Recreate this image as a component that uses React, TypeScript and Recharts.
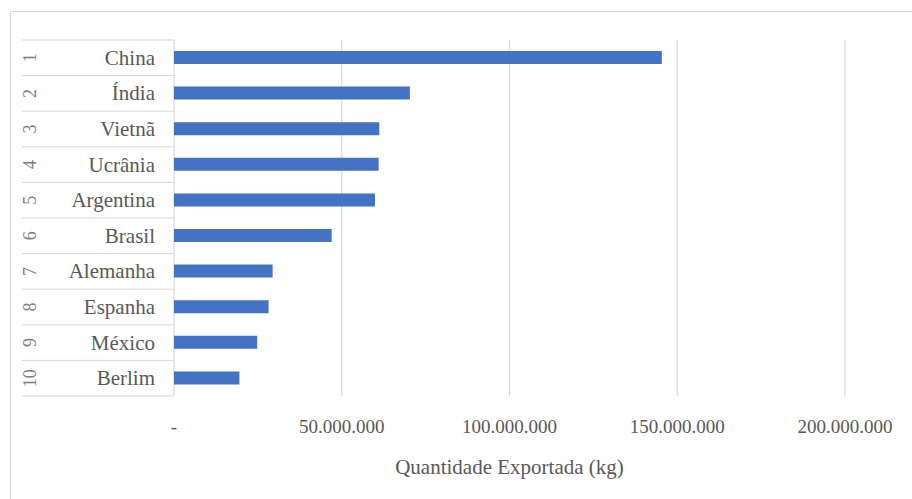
import React from "react";
import { BarChart, Bar, XAxis, YAxis, CartesianGrid } from "recharts";

const ranks = ["1", "2", "3", "4", "5", "6", "7", "8", "9", "10"];
const countries = ["China", "Índia", "Vietnã", "Ucrânia", "Argentina", "Brasil", "Alemanha", "Espanha", "México", "Berlim"];
const exported = [145400000, 70300000, 61200000, 61000000, 59900000, 47000000, 29400000, 28200000, 24800000, 19500000];
const xTicks = [0, 50000000, 100000000, 150000000, 200000000];
const xTitle = "Quantidade Exportada (kg)";

const data = countries.map((c, i) => ({ name: c, rank: ranks[i], value: exported[i] }));

const W = 912;
const H = 499;
const TOP = 40;
const BOTTOM_EDGE = 396;
const BAND = (BOTTOM_EDGE - TOP) / countries.length;
const FONT = "Liberation Serif";

const fmt = (v: number) => {
  if (v === 0) return "-";
  return v.toLocaleString("de-DE");
};

const YTick = (props: any) => {
  const { y, payload, index } = props;
  const rank = ranks[index] ?? "";
  const top = y - BAND / 2;
  const bottom = y + BAND / 2;
  const isLast = index === countries.length - 1;
  return (
    <g>
      <line x1={22} x2={174} y1={top} y2={top} stroke="#d9d9d9" strokeWidth={1} />
      {isLast && <line x1={22} x2={174} y1={bottom} y2={bottom} stroke="#d9d9d9" strokeWidth={1} />}
      <text x={155} y={y} dy={7} textAnchor="end" style={{ fontFamily: FONT, fontSize: 21, fill: "#595959" }}>
        {payload.value}
      </text>
      <text
        x={0}
        y={0}
        dy={6}
        transform={`translate(${30}, ${y}) rotate(-90)`}
        textAnchor="middle"
        style={{ fontFamily: FONT, fontSize: 18, fill: "#7f7f7f" }}
      >
        {rank}
      </text>
    </g>
  );
};

export default function App() {
  return (
    <div style={{ position: "absolute", left: 0, top: 0, width: W, height: H, background: "#fff", overflow: "hidden", fontFamily: FONT }}>
      <div
        style={{
          position: "absolute",
          left: 10,
          top: 11,
          width: W,
          height: H,
          border: "1px solid #d9d9d9",
          boxSizing: "border-box",
        }}
      />
      <div style={{ position: "absolute", left: 0, top: 0 }}>
        <BarChart
          width={W}
          height={H}
          data={data}
          layout="vertical"
          margin={{ top: TOP, right: 67, bottom: 13, left: 0 }}
          barCategoryGap="32%"
          style={{ fontFamily: FONT }}
        >
          <CartesianGrid horizontal={false} stroke="#d9d9d9" strokeWidth={1.2} />
          <XAxis
            type="number"
            domain={[0, 200000000]}
            ticks={xTicks}
            tickFormatter={fmt}
            axisLine={false}
            tickLine={false}
            height={90}
            interval={0}
            tick={{ fontFamily: FONT, fontSize: 19, fill: "#595959", dy: 16 }}
            label={{
              value: xTitle,
              position: "insideBottom",
              offset: 12,
              style: { fontFamily: FONT, fontSize: 21, fill: "#595959" },
            }}
          />
          <YAxis
            type="category"
            dataKey="name"
            width={174}
            axisLine={false}
            tickLine={false}
            interval={0}
            tick={<YTick />}
          />
          <Bar dataKey="value" fill="#4472C4" barSize={13} isAnimationActive={false} />
        </BarChart>
      </div>
    </div>
  );
}
